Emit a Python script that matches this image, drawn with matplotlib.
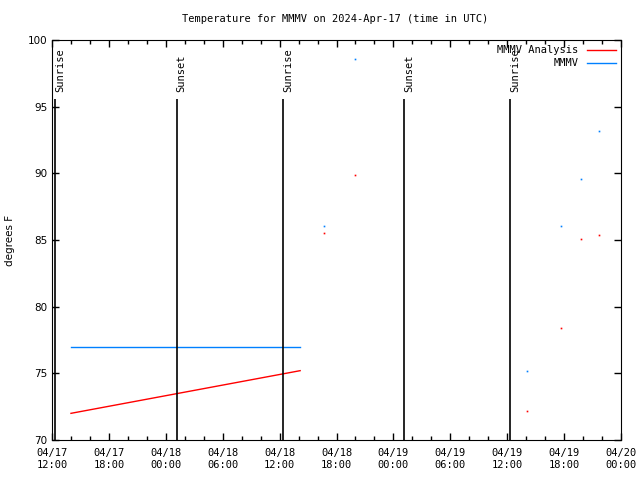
import matplotlib
matplotlib.use("Agg")
import matplotlib.pyplot as plt
import matplotlib.dates as mdates
import numpy as np
from datetime import datetime

# data
times = ["2024-04-17 14:00", "2024-04-18 14:10", "2024-04-18 16:40", "2024-04-18 20:00",
         "2024-04-19 14:05", "2024-04-19 17:40", "2024-04-19 19:50", "2024-04-19 21:40"]
analysis = [72.0, 75.2, 85.5, 89.9, 72.2, 78.4, 85.05, 85.35]
observed = [77.0, 77.0, 86.05, 98.6, 75.15, 86.05, 89.6, 93.2]

sun_events = ["2024-04-17 12:20", "2024-04-18 01:08", "2024-04-18 12:22",
              "2024-04-19 01:09", "2024-04-19 12:20"]
sun_labels = ["Sunrise", "Sunset", "Sunrise", "Sunset", "Sunrise"]

fmt = "%Y-%m-%d %H:%M"
t = [datetime.strptime(s, fmt) for s in times]
ts = [datetime.strptime(s, fmt) for s in sun_events]

mono = "DejaVu Sans Mono"
red = "#ff0000"
blue = "#0080ff"

fig = plt.figure(figsize=(6.4, 4.8), dpi=100)
ax = fig.add_axes([52/640, 40/480, 569/640, 400/480])

# connected segment, then isolated single readings
ax.plot(t[:2], analysis[:2], color=red, lw=1, label="MMMV Analysis")
ax.plot(t[:2], observed[:2], color=blue, lw=1, label="MMMV")
ax.plot(t[2:], analysis[2:], ls="none", marker="s", ms=1.2, mew=0, color=red)
ax.plot(t[2:], observed[2:], ls="none", marker="s", ms=1.2, mew=0, color=blue)

# sunrise / sunset markers
ax.vlines(ts, 70, 95.6, colors="black", lw=1.2)
for x, lab in zip(ts, sun_labels):
    ax.text(x, 96.1, lab, rotation=90, ha="left", va="bottom",
            fontsize=7.5, family=mono)

ax.set_xlim(datetime(2024, 4, 17, 12), datetime(2024, 4, 20, 0))
ax.set_ylim(70, 100)
ax.xaxis.set_major_locator(mdates.HourLocator(byhour=[0, 6, 12, 18]))
ax.xaxis.set_minor_locator(mdates.HourLocator(interval=2))
ax.xaxis.set_major_formatter(mdates.DateFormatter("%m/%d\n%H:%M"))
ax.set_yticks(np.arange(70, 101, 5))

ax.tick_params(which="both", direction="in", top=True, right=True, width=1)
ax.tick_params(which="major", length=5)
ax.tick_params(which="minor", length=3)
ax.tick_params(axis="x", pad=6)
for lab in ax.get_xticklabels():
    lab.set_family(mono)
    lab.set_fontsize(7.5)
for lab in ax.get_yticklabels():
    lab.set_fontsize(7.5)

fig.text(10/640, 0.5, "degrees F", rotation=90, ha="center", va="center",
         fontsize=7.5)
fig.text(335/640, 1 - 19/480, "Temperature for MMMV on 2024-Apr-17 (time in UTC)",
         ha="center", va="center", fontsize=7.5, family=mono)

ax.legend(loc="upper right", frameon=False, markerfirst=False,
          prop={"family": mono, "size": 7.5}, handlelength=2.8,
          handletextpad=0.8, labelspacing=0.3, borderaxespad=0.4,
          borderpad=0.1)

fig.savefig("out.png", dpi=100)
